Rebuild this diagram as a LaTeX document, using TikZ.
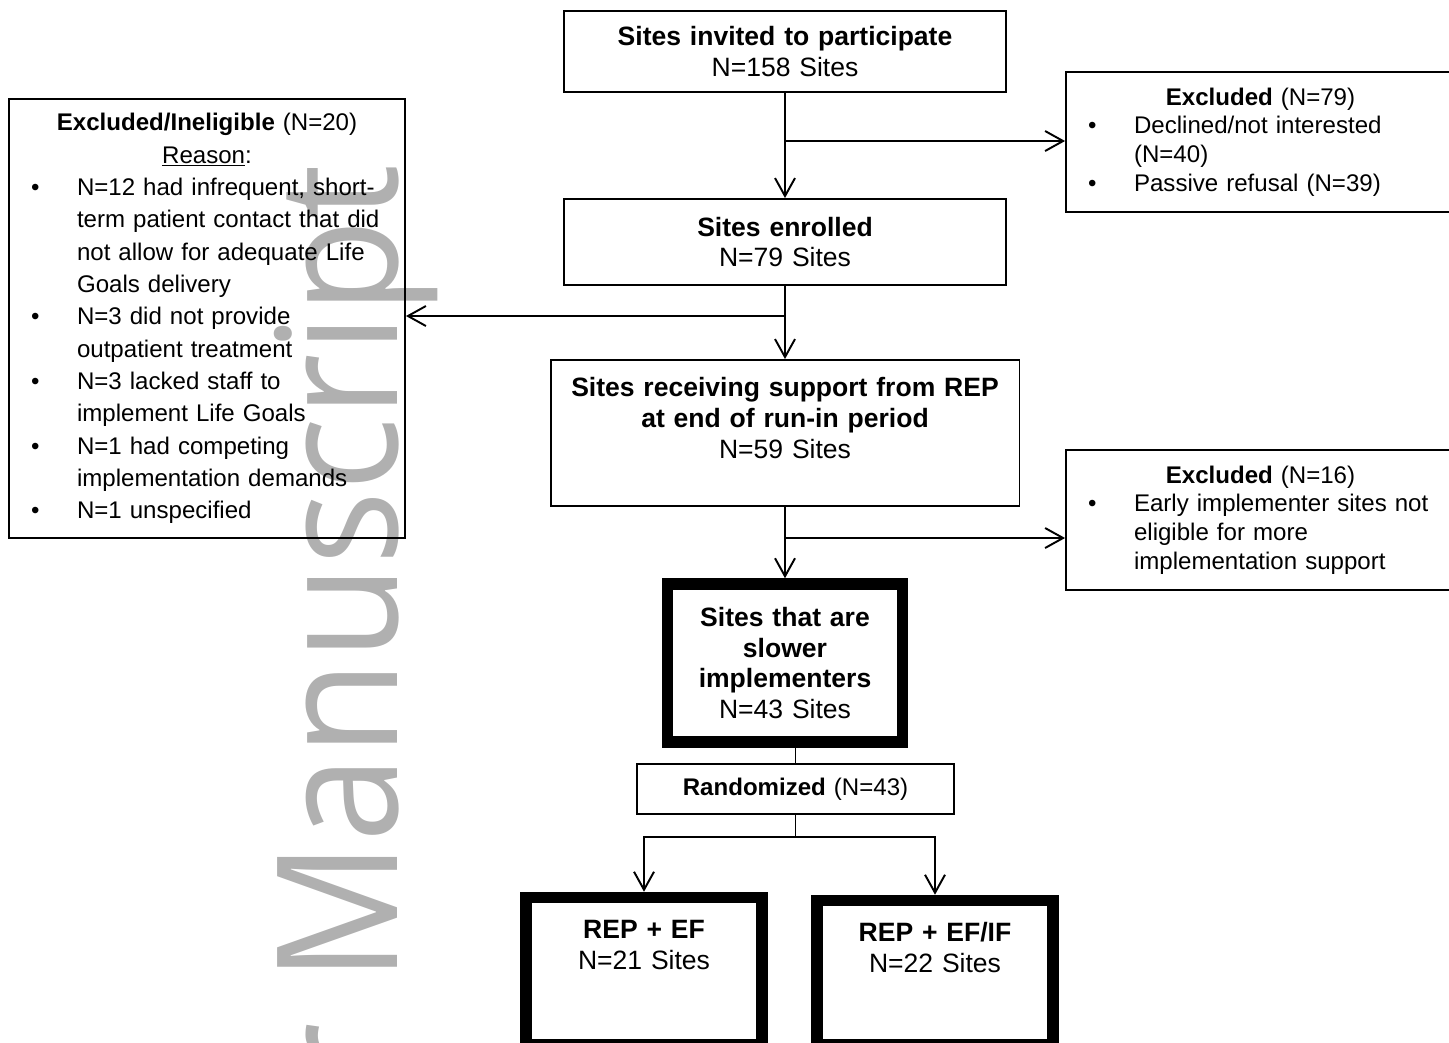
\documentclass[tikz,border=0pt]{standalone}
\usepackage{graphicx}
\usepackage{fontspec}
\setmainfont{Liberation Sans}
\newfontfamily\wmfont{Open Sans}
\usetikzlibrary{arrows.meta,positioning}

\definecolor{wmgray}{RGB}{176,176,176}

\newcommand{\exbullet}{\makebox[1.0cm][l]{\hspace{0.08cm}\textbullet}}
\newcommand{\exindent}{\hspace*{1.0cm}}

\begin{document}
\begin{tikzpicture}[
    x=0.02cm, y=-0.02cm,
    sitebox/.style={draw, line width=1.1pt, align=center, inner sep=0pt,
      font=\fontsize{15.1}{17.5}\selectfont},
    slowbox/.style={sitebox, line width=6.6pt},
    exclbox/.style={draw, line width=1.1pt, inner xsep=0.36cm, inner ysep=0pt,
      font=\fontsize{13.7}{16.3}\selectfont},
    wmark/.style={rotate=90, inner sep=0pt, text=wmgray,
      font=\wmfont\fontsize{95.6}{100}\selectfont},
    link/.style={line width=1.1pt},
    arrow/.style={-{Straight Barb[length=0.36cm, width=0.4cm]}, line width=1.1pt}
  ]
    \useasboundingbox (0,0) rectangle (1449,1042);
    \clip (0,0) rectangle (1449,1042);

    % watermark
    \node[wmark, anchor=base east] (wm) at (397,164) {\scalebox{0.925}[1]{Author Manuscript}};

    % main column
    \node[sitebox, text width=8.5cm, minimum width=8.84cm, minimum height=1.62cm] (invited) at (785,51.5)
      {\textbf{Sites invited to participate}\\N=158 Sites};
    \node[sitebox, text width=8.5cm, minimum width=8.84cm, minimum height=1.72cm] (enrolled) at (785,242)
      {\textbf{Sites enrolled}\\N=79 Sites};
    \node[sitebox, text width=9cm, minimum width=9.38cm, text height=0.73cm, text depth=2.19cm] (rep) at (785,433)
      {\textbf{Sites receiving support from REP}\\\textbf{at end of run-in period}\\N=59 Sites};
    \node[slowbox, text width=4.4cm, minimum width=4.7cm, minimum height=3.16cm] (slower) at (785,663)
      {\textbf{Sites that are}\\\textbf{slower}\\\textbf{implementers}\\N=43 Sites};
    \node[sitebox, text width=6cm, minimum width=6.34cm, minimum height=1.0cm,
      font=\fontsize{13.7}{16.3}\selectfont] (rand) at (795.5,789)
      {\textbf{Randomized} (N=43)};
    \node[slowbox, text width=4.4cm, minimum width=4.72cm, text height=0.82cm, text depth=2.12cm] (ef) at (644,971)
      {\textbf{REP + EF}\\N=21 Sites};
    \node[slowbox, text width=4.4cm, minimum width=4.72cm, text height=0.82cm, text depth=2.06cm] (efif) at (935,972.5)
      {\textbf{REP + EF/IF}\\N=22 Sites};

    % exclusion boxes
    \node[exclbox, text width=7.06cm, minimum width=7.78cm, minimum height=2.8cm] (excl79) at (1260.5,142)
      {{\centering\textbf{Excluded} (N=79)\par}\raggedright
       \exbullet Declined/not interested\\
       \exindent (N=40)\\
       \exbullet Passive refusal (N=39)};
    \node[exclbox, text width=7.06cm, minimum width=7.78cm, minimum height=2.8cm] (excl16) at (1260.5,520)
      {{\centering\textbf{Excluded} (N=16)\par}\raggedright
       \exbullet Early implementer sites not\\
       \exindent eligible for more\\
       \exindent implementation support};
    \node[exclbox, text width=7.2cm, minimum width=7.92cm, minimum height=8.78cm,
      font=\fontsize{13.7}{18.4}\selectfont] (excl20) at (207,318.5)
      {{\centering\textbf{Excluded/Ineligible} (N=20)\\\underline{Reason}:\par}\raggedright
       \exbullet N=12 had infrequent, short-\\
       \exindent term patient contact that did\\
       \exindent not allow for adequate Life\\
       \exindent Goals delivery\\
       \exbullet N=3 did not provide\\
       \exindent outpatient treatment\\
       \exbullet N=3 lacked staff to\\
       \exindent implement Life Goals\\
       \exbullet N=1 had competing\\
       \exindent implementation demands\\
       \exbullet N=1 unspecified};

    % connectors
    \coordinate (b1) at (785,141);
    \coordinate (b2) at (785,316);
    \coordinate (b3) at (785,538);
    \coordinate (split) at (797,837);
    \draw[arrow] (invited) -- (enrolled);
    \draw[arrow] (b1) -- (b1 -| excl79.west);
    \draw[arrow] (enrolled) -- (rep);
    \draw[arrow] (b2) -- (b2 -| excl20.east);
    \draw[arrow] (rep) -- (slower);
    \draw[arrow] (b3) -- (b3 -| excl16.west);
    \draw[link] (rand.north) -- (rand.north |- slower.south);
    \draw[link] (rand.south |- split) -- (rand.south);
    \draw[arrow] (split) -| (ef.north);
    \draw[arrow] (split) -| (efif.north);
  \end{tikzpicture}
\end{document}
